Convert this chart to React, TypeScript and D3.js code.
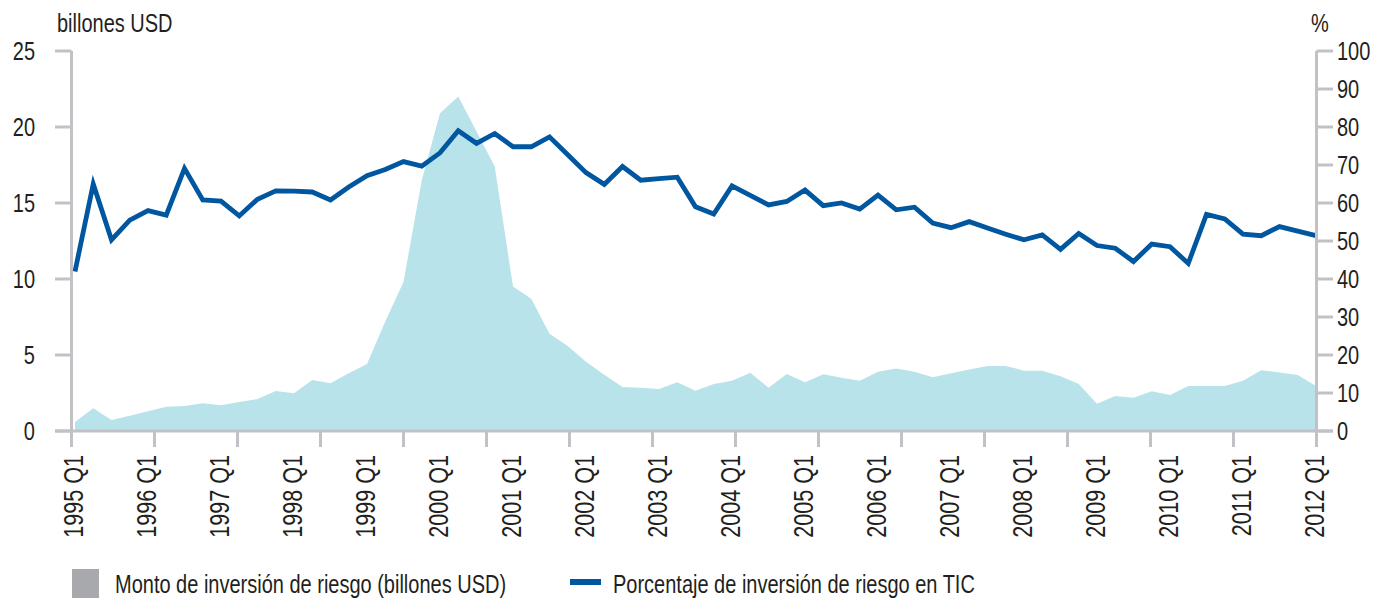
import React from "react";
import * as d3 from "d3";

const yearLabels = ["1995 Q1","1996 Q1","1997 Q1","1998 Q1","1999 Q1","2000 Q1","2001 Q1","2002 Q1","2003 Q1","2004 Q1","2005 Q1","2006 Q1","2007 Q1","2008 Q1","2009 Q1","2010 Q1","2011 Q1","2012 Q1"];

// Monto de inversión de riesgo (billones USD), quarterly 1995 Q1 – 2012 Q1
const montoValues = [0.6,1.5,0.72,1.0,1.3,1.6,1.64,1.82,1.69,1.9,2.1,2.63,2.48,3.36,3.14,3.8,4.4,7.2,9.8,16.5,20.9,22.0,19.7,17.4,9.5,8.7,6.4,5.6,4.56,3.7,2.9,2.85,2.76,3.2,2.65,3.1,3.3,3.84,2.85,3.75,3.2,3.73,3.5,3.3,3.9,4.12,3.9,3.53,3.8,4.05,4.28,4.28,3.97,3.97,3.6,3.1,1.8,2.3,2.19,2.62,2.37,2.96,2.96,2.96,3.3,4.0,3.85,3.68,2.96];

// Porcentaje de inversión de riesgo en TIC (%)
const porcentajeValues = [42,65,50.3,55.5,58,56.8,69.1,60.8,60.5,56.6,61,63.2,63.1,62.9,60.8,64.2,67.2,68.8,70.9,69.7,73.2,79,75.7,78.3,74.8,74.8,77.4,72.7,68,64.9,69.6,66,66.4,66.8,59,57.1,64.5,62,59.5,60.4,63.4,59.3,60,58.4,62.1,58.2,58.9,54.7,53.5,55.1,53.4,51.8,50.3,51.6,47.8,52,48.8,48.1,44.6,49.2,48.5,44.1,57,55.8,51.8,51.4,53.8,52.6,51.4];

const leftTicks = [0,5,10,15,20,25];
const rightTicks = [0,10,20,30,40,50,60,70,80,90,100];

const W = 1379, H = 602;
const axisL = 71.5, axisR = 1316.5, yTop = 51, yBot = 431;
const FONT = "'Liberation Sans', Arial, sans-serif";
const TXT = "#231f20";
const AX = "#c2c2c6";
const SX = 0.8;

function NText({ x, y, anchor = "start", size = 25, rotate = 0, dy, children }: any) {
  return (
    <text
      transform={`translate(${x},${y}) rotate(${rotate}) scale(${SX},1)`}
      textAnchor={anchor}
      dy={dy}
      fontSize={size}
      fill={TXT}
    >
      {children}
    </text>
  );
}

export default function App() {
  const n = montoValues.length;
  const x = d3.scaleLinear().domain([0, n - 1]).range([75, 1316]);
  const yL = d3.scaleLinear().domain([0, 25]).range([yBot, yTop]);
  const yR = d3.scaleLinear().domain([0, 100]).range([yBot, yTop]);
  const xTickScale = d3.scaleLinear().domain([0, 15]).range([axisL, axisR]);

  const area = d3.area<number>().x((_, i) => x(i)).y0(yL(0)).y1(d => yL(d));
  const line = d3.line<number>().x((_, i) => x(i)).y(d => yR(d));

  return (
    <svg width={W} height={H} style={{ position: "absolute", left: 0, top: 0, background: "#fff" }} fontFamily={FONT}>
      <path d={area(montoValues) || ""} fill="#b9e3ea" />
      <path d={line(porcentajeValues) || ""} fill="none" stroke="#0057a0" strokeWidth={4.8} strokeLinejoin="miter" />

      {/* left axis */}
      <line x1={axisL} x2={axisL} y1={yTop} y2={yBot} stroke={AX} strokeWidth={3} />
      {leftTicks.map(t => (
        <g key={"l" + t}>
          <line x1={55} x2={axisL} y1={yL(t)} y2={yL(t)} stroke={AX} strokeWidth={3} />
          <NText x={35} y={yL(t)} dy="0.36em" anchor="end">{t}</NText>
        </g>
      ))}
      {/* right axis */}
      <line x1={axisR} x2={axisR} y1={yTop} y2={yBot} stroke={AX} strokeWidth={3} />
      {rightTicks.map(t => (
        <g key={"r" + t}>
          <line x1={axisR} x2={1333} y1={yR(t)} y2={yR(t)} stroke={AX} strokeWidth={3} />
          <NText x={1337} y={yR(t)} dy="0.36em">{t}</NText>
        </g>
      ))}
      {/* bottom axis */}
      <line x1={55} x2={1333} y1={yBot} y2={yBot} stroke={AX} strokeWidth={3} />
      {d3.range(16).map(k => (
        <line key={"xt" + k} x1={xTickScale(k)} x2={xTickScale(k)} y1={yBot} y2={yBot + 16} stroke={AX} strokeWidth={3} />
      ))}
      {yearLabels.map((lab, k) => (
        <NText key={lab} x={x(k * 4) - 2} y={455} rotate={-90} anchor="end" dy="0.36em" size={27}>{lab}</NText>
      ))}

      <NText x={57} y={32}>billones USD</NText>
      <NText x={1311} y={32}>%</NText>

      {/* legend */}
      <rect x={72} y={569} width={27} height={29} fill="#a7a9ac" />
      <NText x={115} y={593}>Monto de inversión de riesgo (billones USD)</NText>
      <rect x={570} y={579} width={31} height={6} fill="#0057a0" />
      <NText x={613} y={593}>Porcentaje de inversión de riesgo en TIC</NText>
    </svg>
  );
}
